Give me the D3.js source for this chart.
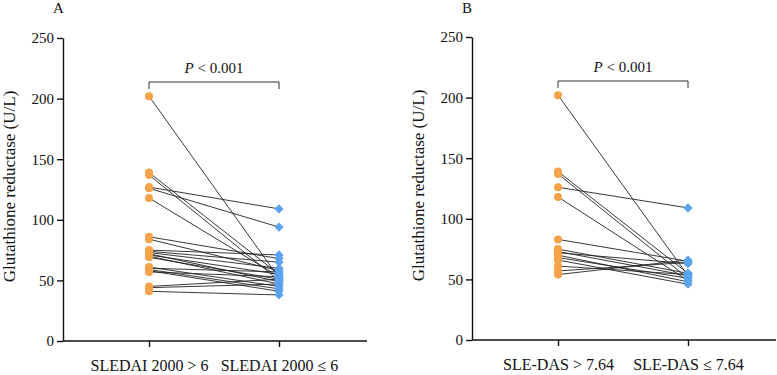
<!DOCTYPE html>
<html lang="en">
<head>
    <meta charset="UTF-8">
    <title>Glutathione reductase</title>
    <script src="https://cdn.jsdelivr.net/npm/d3@7/dist/d3.min.js"></script>
    <style>
        body { margin: 0; background: #fff; }
        text { font-family: "Times New Roman", "Liberation Serif", serif; fill: #111; }
        .axis path, .axis line { stroke: #111; stroke-width: 1.4px; }
        .axis text { font-size: 15px; }
        .xaxis text { font-size: 16px; }
    </style>
</head>
<body>
<svg id="chart" width="777" height="375"></svg>
<script>
    var yTicks = [0, 50, 100, 150, 200, 250];
    var yLabel = "Glutathione reductase (U/L)";

    // panel A
    var catsA = ["SLEDAI 2000 > 6", "SLEDAI 2000 \u2264 6"];
    var highA = [202, 139, 137, 127, 126, 118, 86, 84, 75, 74, 73, 72, 71, 70, 69, 61, 60, 59, 58, 57, 45, 44, 41];
    var lowA  = [52, 55, 50, 109, 94, 53, 68, 58, 71, 65, 60, 49, 55, 47, 51, 45, 57, 43, 41, 53, 51, 47, 38];

    // panel B
    var catsB = ["SLE-DAS > 7.64", "SLE-DAS \u2264 7.64"];
    var highB = [202, 139, 137, 126, 118, 83, 75, 73, 72, 70, 68, 66, 61, 57, 54];
    var lowB  = [53, 55, 51, 109, 49, 65, 55, 53, 63, 48, 51, 46, 54, 64, 66];

    var orange = "#f5a249";
    var blue = "#5ba3ee";

    var svg = d3.select("#chart");
    var w = 304;

    function drawPanel(left, top, bottom, letter, cats, high, low) {
        var g = svg.append("g").attr("transform", `translate(${left},0)`);

        var y = d3.scaleLinear().domain([0, 250]).range([bottom, top]);
        var x = d3.scalePoint().domain(cats).range([86, 216]);

        // y axis
        g.append("g")
            .attr("class", "axis")
            .call(d3.axisLeft(y).tickValues(yTicks).tickSize(6).tickSizeOuter(0).tickPadding(3));

        // x axis
        var xa = g.append("g")
            .attr("class", "axis xaxis")
            .attr("transform", `translate(0,${bottom})`)
            .call(d3.axisBottom(x).tickSize(6).tickSizeOuter(0).tickPadding(13));
        xa.select(".domain").remove();
        xa.append("line").attr("x1", 0).attr("x2", w).attr("y1", 0).attr("y2", 0);

        // y label
        g.append("text")
            .attr("transform", "rotate(-90)")
            .attr("x", -(top + bottom) / 2 + 3)
            .attr("y", -48)
            .attr("text-anchor", "middle")
            .style("font-size", "17px")
            .text(yLabel);

        // panel letter
        g.append("text")
            .attr("x", -10)
            .attr("y", 13)
            .style("font-size", "15px")
            .text(letter);

        // paired lines
        var pairs = high.map((d, i) => ({ hi: d, lo: low[i] }));
        g.selectAll(".pair")
            .data(pairs)
            .enter()
            .append("line")
            .attr("class", "pair")
            .attr("x1", x(cats[0]))
            .attr("y1", d => y(d.hi))
            .attr("x2", x(cats[1]))
            .attr("y2", d => y(d.lo))
            .attr("stroke", "#222")
            .attr("stroke-width", 0.9);

        g.selectAll(".hi")
            .data(high)
            .enter()
            .append("circle")
            .attr("class", "hi")
            .attr("cx", x(cats[0]))
            .attr("cy", d => y(d))
            .attr("r", 4)
            .attr("fill", orange);

        g.selectAll(".lo")
            .data(low)
            .enter()
            .append("path")
            .attr("class", "lo")
            .attr("transform", d => `translate(${x(cats[1])},${y(d)})`)
            .attr("d", "M0,-4.6L4.6,0L0,4.6L-4.6,0Z")
            .attr("fill", blue);

        // significance bracket
        var by = top + 44;
        g.append("path")
            .attr("d", `M${x(cats[0])},${by + 7}V${by}H${x(cats[1])}V${by + 7}`)
            .attr("fill", "none")
            .attr("stroke", "#333")
            .attr("stroke-width", 1);

        var pt = g.append("text")
            .attr("x", (x(cats[0]) + x(cats[1])) / 2)
            .attr("y", by - 9)
            .attr("text-anchor", "middle")
            .style("font-size", "15px");
        pt.append("tspan").style("font-style", "italic").text("P");
        pt.append("tspan").text(" < 0.001");
    }

    drawPanel(63, 38, 341, "A", catsA, highA, lowA);
    drawPanel(472, 37, 340, "B", catsB, highB, lowB);
</script>
</body>
</html>
